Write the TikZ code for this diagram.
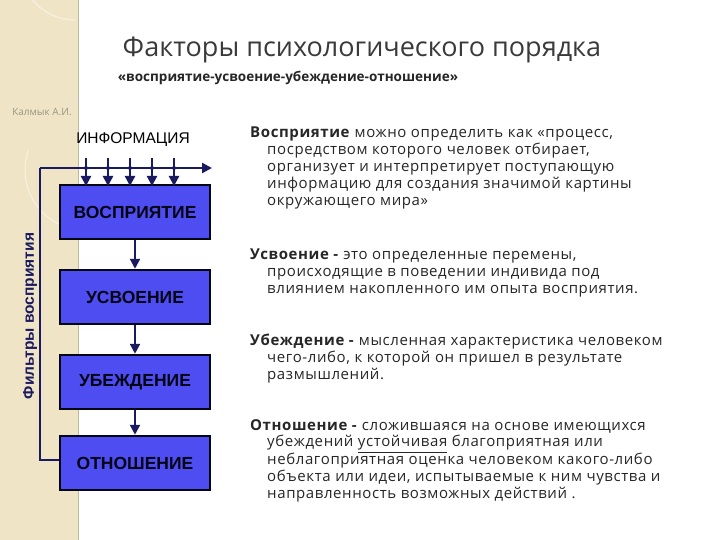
\documentclass[tikz,border=0pt]{standalone}
\usepackage{fontspec}
\setmainfont{Open Sans}
\newfontfamily\arialf{Liberation Sans}
\newfontfamily\spaced[LetterSpace=4]{Open Sans}
\usetikzlibrary{arrows.meta}
\definecolor{beige}{HTML}{EFE5C6}
\definecolor{boxfill}{HTML}{4D4DF2}
\definecolor{navy}{HTML}{1A1A60}
\definecolor{ttl}{HTML}{3A3A3A}
\begin{document}
\begin{tikzpicture}[x=1pt,y=-1pt,
  stage/.style={draw=black!80!navy,line width=2.5pt,fill=boxfill,minimum width=150pt,minimum height=54pt,font=\arialf\bfseries\fontsize{17.5}{20}\selectfont,text=black!80!navy},
  flow/.style={navy,line width=2.2pt,-{Triangle[length=10pt,width=10pt]}},
  para/.style={anchor=north west,align=left,inner sep=0pt,font=\spaced\fontsize{15}{16.8}\selectfont,text=black!85}]
\useasboundingbox (0,0) rectangle (720,540);
\fill[beige] (0,0) rectangle (78,540);
\draw[beige!80!black,line width=0.6pt] (78,0) -- (78,540);
\draw[white,opacity=0.5,line width=1pt] (75,20) arc[start angle=90,end angle=270,radius=55];
\draw[white,opacity=0.5,line width=1pt] (85,230) arc[start angle=90,end angle=200,radius=60];
\node[text=beige!65!black,font=\fontsize{10}{11}\selectfont] (wm) at (42,112) {Калмык А.И.};
\node[text=ttl,font=\fontsize{27}{31}\selectfont] (title) at (362,50) {Факторы психологического порядка};
\node[font=\bfseries\fontsize{13.5}{15}\selectfont,text=black!85] (sub) at (288,78) {«восприятие-усвоение-убеждение-отношение»};
\node[font=\arialf\fontsize{15.5}{17}\selectfont] (info) at (133,140) {ИНФОРМАЦИЯ};
\node[stage] (b1) at (135,212) {ВОСПРИЯТИЕ};
\node[stage] (b2) at (135,297) {УСВОЕНИЕ};
\node[stage] (b3) at (135,382) {УБЕЖДЕНИЕ};
\node[stage] (b4) at (135,463) {ОТНОШЕНИЕ};
\coordinate (tl) at (40,168);
\coordinate (tr) at (212,168);
\coordinate (bl) at (40,460);
\draw[navy,line width=2.2pt] (b4.west |- bl) -- (bl) -- (tl);
\draw[flow] (tl) -- (tr);
\foreach \xx in {86,108,130,152,174}{
  \draw[flow] (\xx,158) -- (\xx,186);
  \fill[navy] (\xx,168) circle (2pt);
}
\draw[flow] (b1) -- (b2);
\draw[flow] (b2) -- (b3);
\draw[flow] (b3) -- (b4);
\node[rotate=90,font=\arialf\bfseries\fontsize{15.5}{17}\selectfont,text=navy] (filt) at (30,316) {Фильтры восприятия};
\node[para] (p1) at (250,127) {\textbf{Восприятие} можно определить как «процесс,\\
\hspace*{17pt}посредством которого человек отбирает,\\
\hspace*{17pt}организует и интерпретирует поступающую\\
\hspace*{17pt}информацию для создания значимой картины\\
\hspace*{17pt}окружающего мира»};
\node[para] (p2) at (250,249) {\textbf{Усвоение -} это определенные перемены,\\
\hspace*{17pt}происходящие в поведении индивида под\\
\hspace*{17pt}влиянием накопленного им опыта восприятия.};
\node[para] (p3) at (250,334) {\textbf{Убеждение -} мысленная характеристика человеком\\
\hspace*{17pt}чего-либо, к которой он пришел в результате\\
\hspace*{17pt}размышлений.};
\node[para] (p4) at (250,419) {\textbf{Отношение -} сложившаяся на основе имеющихся\\
\hspace*{17pt}убеждений \underline{устойчивая} благоприятная или\\
\hspace*{17pt}неблагоприятная оценка человеком какого-либо\\
\hspace*{17pt}объекта или идеи, испытываемые к ним чувства и\\
\hspace*{17pt}направленность возможных действий .};
\end{tikzpicture}
\end{document}
